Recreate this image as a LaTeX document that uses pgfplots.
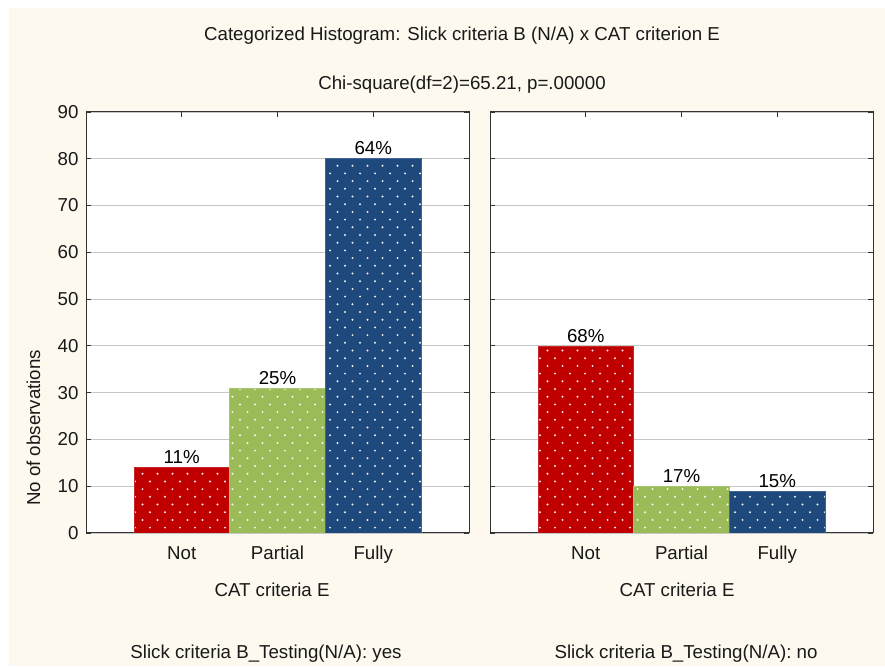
\documentclass[border=0pt]{standalone}
\usepackage{pgfplots}
\pgfplotsset{compat=1.18}
\usepackage{fontspec}
\setmainfont{Liberation Sans}
\usetikzlibrary{patterns}
\definecolor{cream}{HTML}{FDF9EE}
\definecolor{cred}{HTML}{C00000}
\definecolor{cgreen}{HTML}{9BBB59}
\definecolor{cblue}{HTML}{1F497D}
\newcommand\fs{\fontsize{18.7}{22}\selectfont}
\pgfdeclarepatternformonly{sdots}{\pgfpoint{-1.2pt}{-1.2pt}}{\pgfpoint{13.8pt}{14.2pt}}{\pgfpoint{15pt}{15.4pt}}{%
  \pgfpathcircle{\pgfpoint{0pt}{0pt}}{1.1pt}%
  \pgfpathcircle{\pgfpoint{7.5pt}{7.7pt}}{1.1pt}%
  \pgfusepath{fill}}
\pgfplotsset{
  panel/.style={
    scale only axis, width=383pt, height=421pt,
    xmin=-1, xmax=3, ymin=0, ymax=90,
    ytick={0,10,...,90}, xtick={0,1,2}, xticklabels={Not,Partial,Fully},
    tick align=inside, tick pos=both, major tick length=5pt,
    ymajorgrids, major grid style={color=black!22, line width=0.8pt},
    axis line style={line width=1pt, color=black!80},
    tick style={color=black!80, line width=0.8pt},
    axis background/.style={fill=white},
    /pgf/number format/assume math mode=true,
    ticklabel style={font=\fs, text=black!90},
    xticklabel style={anchor=base, yshift=-27pt},
    yticklabel style={xshift=-4pt},
    every node near coord/.append style={font=\fs, text=black},
  },
  bar/.style={ybar, bar width=1, bar shift=0pt, fill=#1, draw=#1!85!white, line width=0.6pt,
    postaction={pattern=sdots, pattern color=white!92!#1},
    point meta=explicit symbolic, nodes near coords},
}
\begin{document}
\begin{tikzpicture}[x=1pt,y=1pt]
\fill[white] (0,0) rectangle (885,666);
\fill[cream] (9,0) rectangle (885,658);
\node[font=\fs, anchor=base, text=black!90] at (462,625) {Categorized Histogram: Slick criteria B (N/A) x CAT criterion E};
\node[font=\fs, anchor=base, text=black!90] at (462,576) {Chi-square(df=2)=65.21, p=.00000};
\node[font=\fs, anchor=base, rotate=90, text=black!90] at (40,238) {No of observations};
\node[font=\fs, anchor=base, text=black!90] at (272,69) {CAT criteria E};
\node[font=\fs, anchor=base, text=black!90] at (677,69) {CAT criteria E};
\node[font=\fs, anchor=base, text=black!90] at (266,7) {Slick criteria B\_Testing(N/A): yes};
\node[font=\fs, anchor=base, text=black!90] at (686,7) {Slick criteria B\_Testing(N/A): no};
\begin{axis}[panel, at={(86pt,133pt)}, anchor=south west]
\addplot[bar=cred] coordinates {(0,14) [11\%]};
\addplot[bar=cgreen] coordinates {(1,31) [25\%]};
\addplot[bar=cblue] coordinates {(2,80) [64\%]};
\end{axis}
\begin{axis}[panel, at={(490pt,133pt)}, anchor=south west, yticklabels={}]
\addplot[bar=cred] coordinates {(0,40) [68\%]};
\addplot[bar=cgreen] coordinates {(1,10) [17\%]};
\addplot[bar=cblue] coordinates {(2,9) [15\%]};
\end{axis}
\end{tikzpicture}
\end{document}
